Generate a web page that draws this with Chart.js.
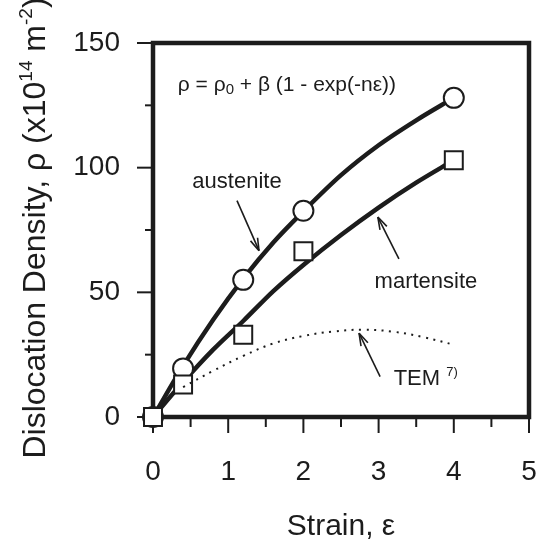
<!DOCTYPE html>
<html>
<head>
<meta charset="utf-8">
<script src="https://cdn.jsdelivr.net/npm/chart.js@4.4.0/dist/chart.umd.min.js"></script>
<style>
  html, body { margin: 0; padding: 0; background: #fff; }
  #wrap { width: 546px; height: 542px; }
</style>
</head>
<body>
<div id="wrap"><canvas id="myChart" width="546" height="542"></canvas></div>
<script>
'use strict';

var strainTicks = [0, 1, 2, 3, 4, 5];
var densityTicks = [0, 50, 100, 150];

// measured points
var austeniteStrain = [0, 0.4, 1.2, 2, 4];
var austeniteDensity = [0, 19.5, 55, 82.7, 128];
var martensiteStrain = [0, 0.4, 1.2, 2, 4];
var martensiteDensity = [0, 13, 33, 66.5, 103];

// fitted curves
var fitStrain = [0, 0.4, 0.8, 1.2, 1.6, 2, 2.5, 3, 3.5, 4];
var austeniteFit = [0, 20.5, 39, 55.5, 70, 82.5, 97, 109, 119, 128];
var martensiteFit = [0, 14, 27, 38.5, 50.5, 61, 73, 84, 94, 103];

// TEM 7) curve (dotted)
var temStrain = [0.4, 0.8, 1.2, 1.6, 2, 2.4, 2.8, 3.2, 3.6, 4];
var temDensity = [12, 18.5, 24.5, 29.5, 32.5, 34.3, 35, 34.2, 32, 29];

var ink = '#1c1c1c';
var family = '"Liberation Sans", Arial, sans-serif';

function toXY(xs, ys) {
    return xs.map(function (x, i) { return { x: x, y: ys[i] }; });
}

function line(ctx, x1, y1, x2, y2) {
    ctx.beginPath();
    ctx.moveTo(x1, y1);
    ctx.lineTo(x2, y2);
    ctx.stroke();
}

function arrow(ctx, x1, y1, x2, y2) {
    var ang = Math.atan2(y2 - y1, x2 - x1);
    var len = 13, spread = 0.3;
    line(ctx, x1, y1, x2, y2);
    line(ctx, x2, y2, x2 - len * Math.cos(ang - spread), y2 - len * Math.sin(ang - spread));
    line(ctx, x2, y2, x2 - len * Math.cos(ang + spread), y2 - len * Math.sin(ang + spread));
}

// draws pieces [text, size, raise] from x, returns end x
function runs(ctx, pieces, x, y) {
    pieces.forEach(function (p) {
        ctx.font = p[1] + 'px ' + family;
        ctx.fillText(p[0], x, y - p[2]);
        x += ctx.measureText(p[0]).width;
    });
    return x;
}

function runsWidth(ctx, pieces) {
    var w = 0;
    pieces.forEach(function (p) {
        ctx.font = p[1] + 'px ' + family;
        w += ctx.measureText(p[0]).width;
    });
    return w;
}

var frameAndText = {
    id: 'frameAndText',
    beforeDatasetsDraw: function (chart) {
        var ctx = chart.ctx, a = chart.chartArea;
        var xs = chart.scales.x, ys = chart.scales.y;
        ctx.save();
        ctx.strokeStyle = ink;
        ctx.lineWidth = 2;
        for (var v = 0; v <= 150; v += 25) {
            var py = ys.getPixelForValue(v);
            line(ctx, a.left - (v % 50 === 0 ? 16 : 8), py, a.left, py);
        }
        for (var s = 0; s <= 5; s += 0.5) {
            var px = xs.getPixelForValue(s);
            line(ctx, px, a.bottom, px, a.bottom + (s % 1 === 0 ? 16 : 10));
        }
        ctx.lineWidth = 4.5;
        ctx.strokeRect(a.left, a.top, a.right - a.left, a.bottom - a.top);
        ctx.restore();
    },
    afterDraw: function (chart) {
        var ctx = chart.ctx, a = chart.chartArea;
        var xs = chart.scales.x, ys = chart.scales.y;
        var X = function (v) { return xs.getPixelForValue(v); };
        var Y = function (v) { return ys.getPixelForValue(v); };
        ctx.save();
        ctx.fillStyle = ink;
        ctx.strokeStyle = ink;

        // formula
        ctx.textBaseline = 'middle';
        ctx.textAlign = 'left';
        runs(ctx, [['\u03c1 = \u03c1', 21, 0], ['0', 15, -5], [' + \u03b2 (1 - exp(-n\u03b5))', 21, 0]], X(0.33), Y(133.2));

        // labels
        ctx.font = '22px ' + family;
        ctx.textAlign = 'center';
        ctx.fillText('austenite', X(1.117), Y(94.3));
        ctx.fillText('martensite', X(3.63), Y(54.2));
        ctx.textAlign = 'left';
        runs(ctx, [['TEM ', 22, 0], ['7)', 13, 7]], X(3.2), Y(15.2));

        ctx.lineWidth = 1.6;
        arrow(ctx, X(1.117), Y(86.8), X(1.41), Y(66.7));
        arrow(ctx, X(3.27), Y(63.4), X(2.99), Y(80.2));
        arrow(ctx, X(3.02), Y(16.2), X(2.74), Y(33.6));

        // x title
        ctx.textBaseline = 'alphabetic';
        ctx.textAlign = 'center';
        ctx.font = '30px ' + family;
        ctx.fillText('Strain, \u03b5', (a.left + a.right) / 2, 535);

        // y title
        var yTitle = [['Dislocation Density, \u03c1 (x10', 32, 0], ['14', 19, 13], [' m', 32, 0], ['-2', 19, 13], [')', 32, 0]];
        var w = runsWidth(ctx, yTitle);
        ctx.translate(45, 228);
        ctx.rotate(-Math.PI / 2);
        ctx.textAlign = 'left';
        runs(ctx, yTitle, -w / 2, 0);
        ctx.restore();
    }
};

var tickFont = { family: family, size: 28 };

var ctx = document.getElementById('myChart');
var myChart = new Chart(ctx, {
    type: 'scatter',
    data: {
        datasets: [{
            label: 'TEM',
            data: toXY(temStrain, temDensity),
            showLine: true,
            pointRadius: 0,
            borderColor: ink,
            borderWidth: 2,
            borderDash: [2, 5.5],
            tension: 0.4,
            clip: false
        }, {
            label: 'martensite',
            data: toXY(martensiteStrain, martensiteDensity),
            showLine: false,
            pointStyle: 'rect',
            pointRadius: 12.7,
            pointBackgroundColor: '#fff',
            pointBorderColor: ink,
            pointBorderWidth: 2,
            clip: false
        }, {
            label: 'austenite',
            data: toXY(austeniteStrain, austeniteDensity),
            showLine: false,
            pointStyle: 'circle',
            pointRadius: 10,
            pointBackgroundColor: '#fff',
            pointBorderColor: ink,
            pointBorderWidth: 2,
            clip: false
        }, {
            label: 'austenite fit',
            data: toXY(fitStrain, austeniteFit),
            showLine: true,
            pointRadius: 0,
            borderColor: ink,
            borderWidth: 4.5,
            cubicInterpolationMode: 'monotone',
            clip: false
        }, {
            label: 'martensite fit',
            data: toXY(fitStrain, martensiteFit),
            showLine: true,
            pointRadius: 0,
            borderColor: ink,
            borderWidth: 4.5,
            cubicInterpolationMode: 'monotone',
            clip: false
        }]
    },
    options: {
        responsive: false,
        animation: false,
        events: [],
        layout: {
            padding: { left: 33, top: 43, right: 17, bottom: 45 }
        },
        plugins: {
            legend: { display: false },
            tooltip: { enabled: false }
        },
        scales: {
            x: {
                type: 'linear',
                min: 0,
                max: 5,
                grid: { display: true, drawOnChartArea: false, drawTicks: true, tickLength: 38, tickColor: 'rgba(0,0,0,0)' },
                border: { display: false },
                afterBuildTicks: function (scale) {
                    scale.ticks = strainTicks.map(function (v) { return { value: v }; });
                },
                afterFit: function (scale) { scale.height = 80; },
                ticks: { font: tickFont, color: ink, padding: 0, maxRotation: 0 }
            },
            y: {
                type: 'linear',
                min: 0,
                max: 150,
                grid: { display: true, drawOnChartArea: false, drawTicks: true, tickLength: 33, tickColor: 'rgba(0,0,0,0)' },
                border: { display: false },
                afterBuildTicks: function (scale) {
                    scale.ticks = densityTicks.map(function (v) { return { value: v }; });
                },
                afterFit: function (scale) { scale.width = 120; },
                ticks: { font: tickFont, color: ink, padding: 0 }
            }
        }
    },
    plugins: [frameAndText]
});
</script>
</body>
</html>
